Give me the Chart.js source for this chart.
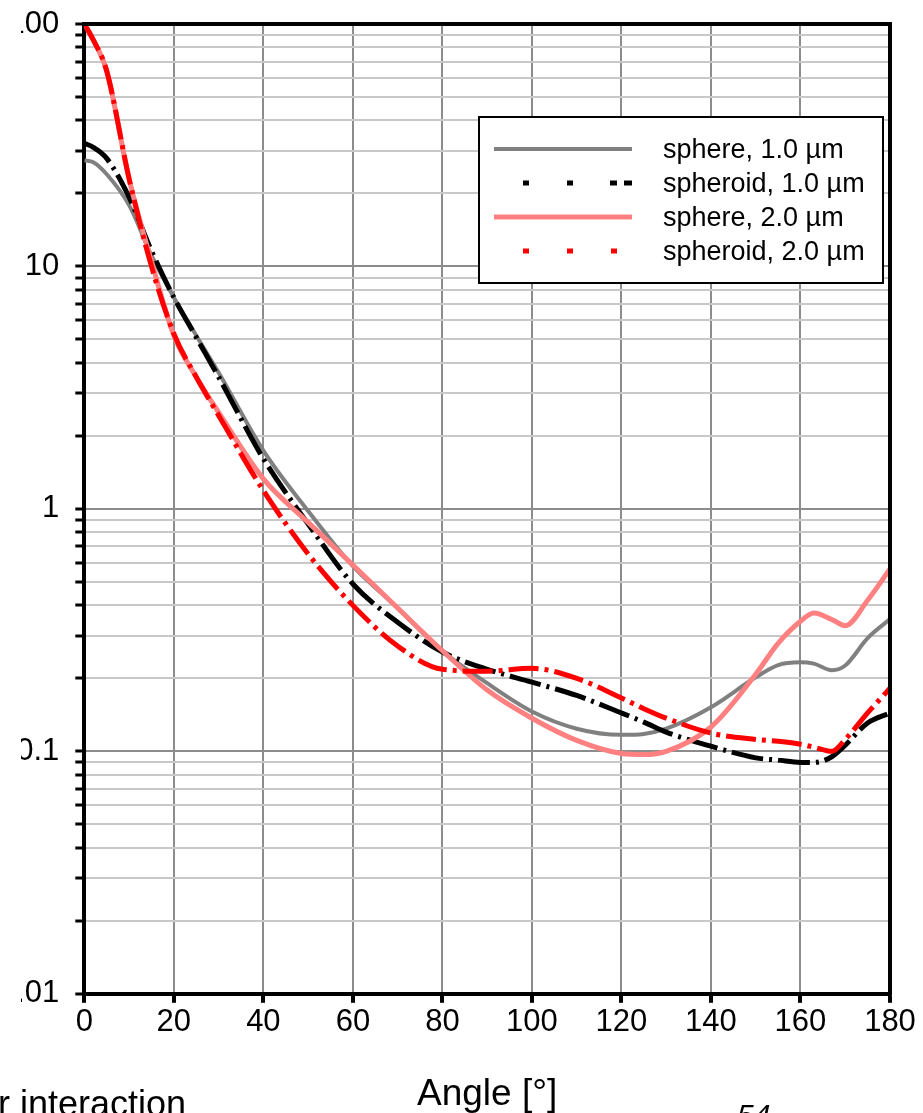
<!DOCTYPE html>
<html>
<head>
<meta charset="utf-8">
<script src="https://cdn.jsdelivr.net/npm/chart.js@4.4.1/dist/chart.umd.min.js"></script>
<style>
  html, body { margin: 0; padding: 0; background: #fff; overflow: hidden; }
  body { width: 923px; height: 1113px; position: relative; }
  /* the source figure is cut off just left of the y tick labels */
  #wrap { position: absolute; left: -21px; top: 0; width: 944px; height: 1113px; clip-path: inset(0 0 0 42px); }
  .foot { position: absolute; font-family: "Liberation Sans", Arial, sans-serif; color: #000; white-space: nowrap; line-height: 1; }
</style>
</head>
<body>
<div id="wrap"><canvas id="chart"></canvas></div>
<div class="foot" style="left:-2px; top:1086px; font-size:36px;">r interaction</div>
<div class="foot" style="left:737px; top:1100px; font-size:30px; font-style:italic;">54</div>
<script>
// scattering angle in degrees
const angles = [0, 2, 5, 10, 15, 20, 25, 30, 40, 50, 60, 70, 80, 90, 100, 110, 120, 125, 130, 140, 150, 155, 160, 163, 167, 170, 175, 180]

const sphere1 = [27.4, 26.9, 24.0, 17.9, 11.1, 7.45, 5.19, 3.65, 1.74, 0.98, 0.58, 0.39, 0.259, 0.191, 0.146, 0.124, 0.117, 0.118, 0.124, 0.152, 0.202, 0.227, 0.233, 0.230, 0.216, 0.226, 0.293, 0.351]
const spheroid1 = [32.2, 31.0, 27.9, 19.3, 11.6, 7.45, 5.1, 3.5, 1.61, 0.867, 0.49, 0.341, 0.257, 0.218, 0.193, 0.170, 0.144, 0.132, 0.120, 0.105, 0.094, 0.092, 0.090, 0.090, 0.095, 0.106, 0.131, 0.144]
const sphere2 = [100, 86, 64, 23, 10.5, 5.2, 3.5, 2.5, 1.33, 0.88, 0.587, 0.39, 0.26, 0.179, 0.137, 0.111, 0.098, 0.097, 0.100, 0.126, 0.208, 0.279, 0.344, 0.372, 0.350, 0.330, 0.420, 0.565]
const spheroid2 = [100, 86, 64, 23, 10.0, 5.28, 3.5, 2.43, 1.19, 0.652, 0.40, 0.272, 0.218, 0.214, 0.220, 0.200, 0.166, 0.150, 0.137, 0.119, 0.112, 0.110, 0.107, 0.104, 0.100, 0.112, 0.144, 0.182]

const seriesLabels = ["sphere, 1.0 µm", "spheroid, 1.0 µm", "sphere, 2.0 µm", "spheroid, 2.0 µm"]

const yDecades = [0.01, 0.1, 1, 10, 100]
const yTickLabels = ["0.01", "0.1", "1", "10", "100"]
const xTickStep = 20

// every 1..9 x 10^k line of the log grid
const yTickValues = []
for (let k = -2; k <= 1; k++) {
  for (let m = 1; m <= 9; m++) yTickValues.push(+(m * Math.pow(10, k)).toPrecision(3))
}
yTickValues.push(100)

const decadeIndex = (v) => yDecades.findIndex((d) => Math.abs(v - d) / d < 1e-6)

const family = '"Liberation Sans", Arial, sans-serif'
const toPoints = (arr) => angles.map((a, i) => ({ x: a, y: arr[i] }))

// legend samples, Excel style
const legendDash = [[], [6, 38, 6, 37, 7, 7, 8, 200], [], [6, 38, 6, 38, 6, 200]]
const legendStart = [0, 29, 0, 29]

const legendBox = {
  id: "legendBox",
  afterDraw(chart) {
    const { ctx, chartArea: a } = chart
    const x0 = a.right - 411
    const y0 = a.top + 93
    ctx.save()
    ctx.fillStyle = "#fff"
    ctx.fillRect(x0, y0, 404, 166)
    ctx.strokeStyle = "#000"
    ctx.lineWidth = 2
    ctx.strokeRect(x0, y0, 404, 166)
    chart.data.datasets.forEach((ds, i) => {
      const y = y0 + 32 + i * 34
      ctx.strokeStyle = ds.borderColor
      ctx.lineWidth = ds.borderWidth
      ctx.setLineDash(legendDash[i])
      ctx.beginPath()
      ctx.moveTo(x0 + 15 + legendStart[i], y)
      ctx.lineTo(x0 + 153, y)
      ctx.stroke()
      ctx.setLineDash([])
      ctx.fillStyle = "#000"
      ctx.font = "27px " + family
      ctx.textBaseline = "middle"
      ctx.fillText(ds.label, x0 + 184, y + 2)
    })
    ctx.restore()
  },
}

const frame = {
  id: "frame",
  afterDatasetsDraw(chart) {
    const { ctx, chartArea: a } = chart
    ctx.save()
    ctx.strokeStyle = "#000"
    ctx.lineWidth = 4
    ctx.beginPath()
    ctx.moveTo(a.left - 2, a.top)
    ctx.lineTo(a.right, a.top)
    ctx.lineTo(a.right, a.bottom + 2)
    ctx.stroke()
    ctx.restore()
  },
}

const ctx = document.getElementById("chart").getContext("2d")

new Chart(ctx, {
  type: "line",
  data: {
    datasets: [
      {
        label: seriesLabels[0],
        data: toPoints(sphere1),
        borderColor: "#808080",
        borderWidth: 4,
        order: 4,
      },
      {
        label: seriesLabels[1],
        data: toPoints(spheroid1),
        borderColor: "#000000",
        borderWidth: 5,
        borderDash: [32, 6, 3, 6],
        order: 3,
      },
      {
        label: seriesLabels[2],
        data: toPoints(sphere2),
        borderColor: "#ff8080",
        borderWidth: 5,
        order: 2,
      },
      {
        label: seriesLabels[3],
        data: toPoints(spheroid2),
        borderColor: "#ff0000",
        borderWidth: 5,
        borderDash: [30, 6, 4, 6],
        order: 1,
      },
    ],
  },
  options: {
    responsive: true,
    maintainAspectRatio: false,
    animation: false,
    layout: { padding: { left: 4, top: 24, right: 33, bottom: 0 } },
    elements: {
      point: { radius: 0 },
      line: { cubicInterpolationMode: "monotone", fill: false },
    },
    plugins: {
      legend: { display: false },
      tooltip: { enabled: false },
    },
    scales: {
      x: {
        type: "linear",
        min: 0,
        max: 180,
        ticks: {
          stepSize: xTickStep,
          color: "#000",
          padding: 1,
          maxRotation: 0,
          font: { size: 31, family },
        },
        grid: {
          color: "#8c8c8c",
          lineWidth: 2,
          tickColor: "#000",
          tickWidth: 4,
          tickLength: 9,
        },
        border: { color: "#000", width: 4 },
        title: {
          display: true,
          text: "Angle [°]",
          color: "#000",
          font: { size: 37, family, lineHeight: 1 },
          padding: { top: 34, bottom: 0 },
        },
      },
      y: {
        type: "logarithmic",
        min: 0.01,
        max: 100,
        afterBuildTicks: (scale) => {
          scale.ticks = yTickValues.map((v) => ({ value: v }))
        },
        ticks: {
          autoSkip: false,
          color: "#000",
          padding: 16,
          font: { size: 31, family, lineHeight: 0.5 },
          callback: (v) => {
            const i = decadeIndex(v)
            return i >= 0 ? yTickLabels[i] : ""
          },
        },
        grid: {
          color: (c) => (decadeIndex(c.tick.value) >= 0 ? "#8c8c8c" : "#c8c8c8"),
          lineWidth: 2,
          tickColor: "#000",
          tickWidth: 3,
          tickLength: 9,
        },
        border: { color: "#000", width: 4 },
      },
    },
  },
  plugins: [frame, legendBox],
})
</script>
</body>
</html>
